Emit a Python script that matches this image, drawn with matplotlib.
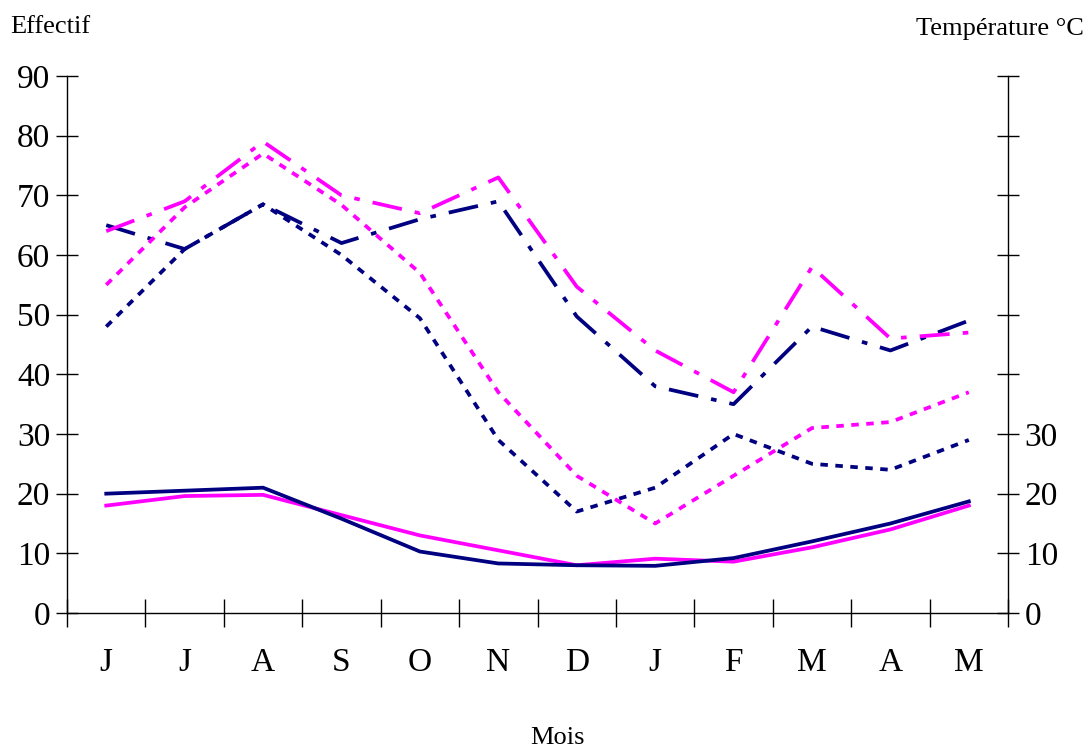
import matplotlib
matplotlib.use("Agg")
import matplotlib.pyplot as plt

plt.rcParams['font.family'] = ['Liberation Serif', 'DejaVu Serif']

mois = ['J', 'J', 'A', 'S', 'O', 'N', 'D', 'J', 'F', 'M', 'A', 'M']

# Effectifs (left axis)
eff_navy_dashdot = [65, 61, 68.5, 62, 66, 69, 49.7, 38, 35, 48, 44, 49]
eff_mag_dashdot = [64, 69, 79, 70, 67, 73, 54.7, 44, 37, 58, 46, 47]
eff_navy_dotted = [48, 61, 68.5, 60, 49.4, 29, 17, 21, 30, 25, 24, 29]
eff_mag_dotted = [55, 68, 77, 68.4, 57, 37, 23, 15, 23, 31, 32, 37]

# Températures (right axis)
temp_navy = [20, 20.5, 21, 15.8, 10.3, 8.3, 8, 7.9, 9.2, 12, 15, 18.7]
temp_mag = [18, 19.6, 19.8, 16.4, 13, 10.5, 8, 9.1, 8.6, 11, 14, 18]

navy = '#000080'
mag = '#FF00FF'
lw = 2.7

fig = plt.figure(figsize=(10.9, 7.49), dpi=100)
ax = fig.add_axes([0.0615, 0.1816, 0.8633, 0.7169])
ax2 = ax.twinx()

x = [i + 0.5 for i in range(len(mois))]

ax.plot(x, eff_navy_dashdot, color=navy, lw=lw, dashes=[8, 3.5, 1.5, 3.5])
ax.plot(x, eff_mag_dashdot, color=mag, lw=lw, dashes=[8, 3.5, 1.5, 3.5])
ax.plot(x, eff_navy_dotted, color=navy, lw=lw, dashes=[2, 2])
ax.plot(x, eff_mag_dotted, color=mag, lw=lw, dashes=[2, 2])
ax2.plot(x, temp_mag, color=mag, lw=lw)
ax2.plot(x, temp_navy, color=navy, lw=lw)

for a in (ax, ax2):
    a.set_xlim(0, 12)
    a.set_ylim(0, 90)
    a.spines['top'].set_visible(False)
    for s in a.spines.values():
        s.set_linewidth(1.0)

ax.spines['right'].set_visible(False)
ax2.spines['left'].set_visible(False)
ax2.spines['bottom'].set_visible(False)

ax.set_yticks(range(0, 91, 10))
ax.tick_params(axis='y', direction='inout', length=16, width=1, labelsize=24, pad=4)

ax2.set_yticks(range(0, 91, 10))
ax2.set_yticklabels([str(v) if v <= 30 else '' for v in range(0, 91, 10)])
ax2.tick_params(axis='y', direction='inout', length=16, width=1, labelsize=24, pad=4)

ax.set_xticks(range(0, 13))
ax.set_xticklabels([])
ax.set_xticks(x, minor=True)
ax.set_xticklabels(mois, minor=True)
ax.tick_params(axis='x', which='major', direction='inout', length=20, width=1)
ax.tick_params(axis='x', which='minor', length=0, labelsize=24, pad=25)

fig.text(0.009, 0.964, 'Effectif', fontsize=19, ha='left', va='center')
fig.text(0.994, 0.961, 'Température °C', fontsize=19, ha='right', va='center')
fig.text(0.511, 0.015, 'Mois', fontsize=19, ha='center', va='center')

fig.savefig('out.png', dpi=100)
